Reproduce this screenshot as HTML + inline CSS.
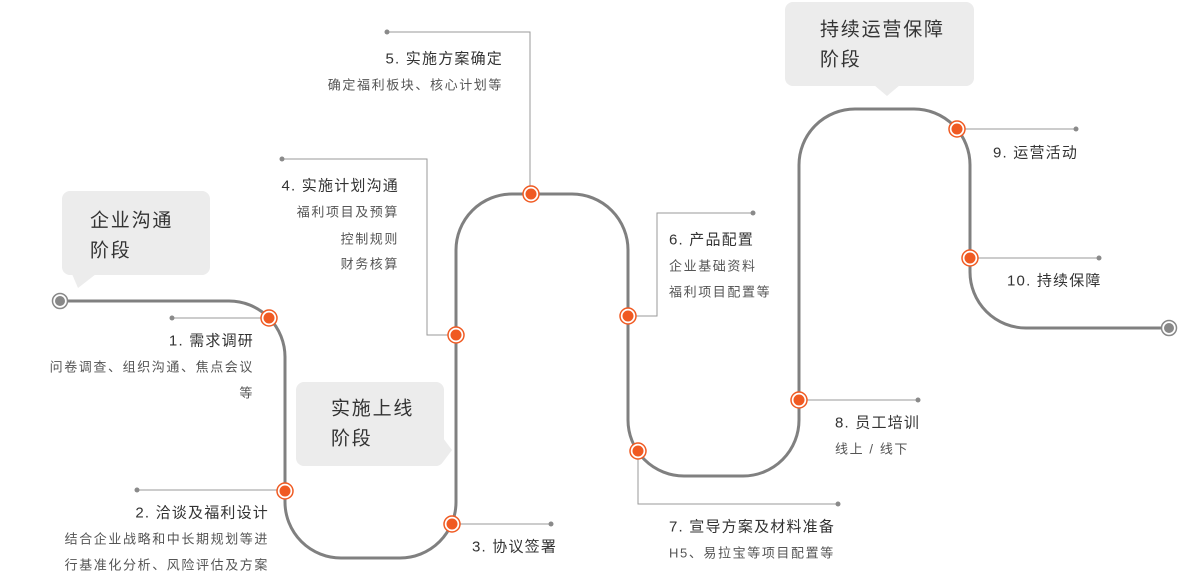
<!DOCTYPE html>
<html><head><meta charset="utf-8"><style>
html,body{margin:0;padding:0;background:#fff;}
svg{display:block;font-family:"Liberation Sans","Noto Sans CJK SC",sans-serif;}
.t{font-size:15px;fill:#333;letter-spacing:1.2px}
.s{font-size:13px;fill:#555;letter-spacing:1.6px}
.b{font-size:19px;fill:#333;letter-spacing:1.8px}
.l{stroke:#9a9a9a;stroke-width:1;fill:none}
</style></head><body>
<svg width="1200" height="579" viewBox="0 0 1200 579" xmlns="http://www.w3.org/2000/svg">
<g fill="#ececec">
<rect x="62" y="191" width="148" height="84" rx="8"/>
<polygon points="72,274 96,274 78,288"/>
<rect x="296" y="382" width="148" height="84" rx="8"/>
<polygon points="443,438 443,462 452,450"/>
<rect x="785" y="2" width="189" height="84" rx="8"/>
<polygon points="874,85 900,85 887,96"/>
</g>
<text class="b" x="90" y="221" dominant-baseline="central">企业沟通</text>
<text class="b" x="90" y="251" dominant-baseline="central">阶段</text>
<text class="b" x="331" y="409" dominant-baseline="central">实施上线</text>
<text class="b" x="331" y="439" dominant-baseline="central">阶段</text>
<text class="b" x="820" y="30" dominant-baseline="central">持续运营保障</text>
<text class="b" x="820" y="60" dominant-baseline="central">阶段</text>

<path d="M60,301 H229 A56,56 0 0 1 285,357 V502 A56,56 0 0 0 341,558 H400 A56,56 0 0 0 456,502 V250 A56,56 0 0 1 512,194 H572 A56,56 0 0 1 628,250 V420 A56,56 0 0 0 684,476 H743 A56,56 0 0 0 799,420 V165 A56,56 0 0 1 855,109 H914 A56,56 0 0 1 970,165 V272 A56,56 0 0 0 1026,328 H1169" fill="none" stroke="#808080" stroke-width="3"/>

<path class="l" d="M172,318 H269"/>
<path class="l" d="M137,490 H285"/>
<path class="l" d="M452,524 H551"/>
<path class="l" d="M282,159 H427 V335 H456"/>
<path class="l" d="M387,32 H530 V194"/>
<path class="l" d="M628,316 H657 V213 H753"/>
<path class="l" d="M638,451 V504 H838"/>
<path class="l" d="M799,400 H918"/>
<path class="l" d="M957,129 H1076"/>
<path class="l" d="M970,258 H1099"/>
<g fill="#8a8a8a">
<circle cx="172" cy="318" r="2.5"/><circle cx="137" cy="490" r="2.5"/><circle cx="551" cy="524" r="2.5"/>
<circle cx="282" cy="159" r="2.5"/><circle cx="387" cy="32" r="2.5"/><circle cx="753" cy="213" r="2.5"/>
<circle cx="838" cy="504" r="2.5"/><circle cx="918" cy="400" r="2.5"/><circle cx="1076" cy="129" r="2.5"/>
<circle cx="1099" cy="258" r="2.5"/>
</g>

<g>
<g fill="#fff" stroke="#f05a22" stroke-width="1.5">
<circle cx="269" cy="318" r="8"/><circle cx="285" cy="491" r="8"/><circle cx="452" cy="524" r="8"/>
<circle cx="456" cy="335" r="8"/><circle cx="531" cy="194" r="8"/><circle cx="628" cy="316" r="8"/>
<circle cx="638" cy="451" r="8"/><circle cx="799" cy="400" r="8"/><circle cx="957" cy="129" r="8"/>
<circle cx="970" cy="258" r="8"/>
</g>
<g fill="#f05a22">
<circle cx="269" cy="318" r="5.5"/><circle cx="285" cy="491" r="5.5"/><circle cx="452" cy="524" r="5.5"/>
<circle cx="456" cy="335" r="5.5"/><circle cx="531" cy="194" r="5.5"/><circle cx="628" cy="316" r="5.5"/>
<circle cx="638" cy="451" r="5.5"/><circle cx="799" cy="400" r="5.5"/><circle cx="957" cy="129" r="5.5"/>
<circle cx="970" cy="258" r="5.5"/>
</g>
<circle cx="60" cy="301" r="7.5" fill="#fff" stroke="#888" stroke-width="1.5"/>
<circle cx="60" cy="301" r="5" fill="#888"/>
<circle cx="1169" cy="328" r="7.5" fill="#fff" stroke="#888" stroke-width="1.5"/>
<circle cx="1169" cy="328" r="5" fill="#888"/>
</g>

<g dominant-baseline="central">
<text class="t" x="254" y="341" text-anchor="end">1. 需求调研</text>
<text class="s" x="254" y="367" text-anchor="end">问卷调查、组织沟通、焦点会议</text>
<text class="s" x="254" y="393" text-anchor="end">等</text>

<text class="t" x="269" y="513" text-anchor="end">2. 洽谈及福利设计</text>
<text class="s" x="269" y="539" text-anchor="end">结合企业战略和中长期规划等进</text>
<text class="s" x="269" y="565" text-anchor="end">行基准化分析、风险评估及方案</text>

<text class="t" x="472" y="547">3. 协议签署</text>

<text class="t" x="399" y="186" text-anchor="end">4. 实施计划沟通</text>
<text class="s" x="399" y="212" text-anchor="end">福利项目及预算</text>
<text class="s" x="399" y="239" text-anchor="end">控制规则</text>
<text class="s" x="399" y="264" text-anchor="end">财务核算</text>

<text class="t" x="503" y="59" text-anchor="end">5. 实施方案确定</text>
<text class="s" x="503" y="85" text-anchor="end">确定福利板块、核心计划等</text>

<text class="t" x="669" y="240">6. 产品配置</text>
<text class="s" x="669" y="266">企业基础资料</text>
<text class="s" x="669" y="292">福利项目配置等</text>

<text class="t" x="669" y="527">7. 宣导方案及材料准备</text>
<text class="s" x="669" y="553">H5、易拉宝等项目配置等</text>

<text class="t" x="835" y="423">8. 员工培训</text>
<text class="s" x="835" y="449">线上 / 线下</text>

<text class="t" x="993" y="153">9. 运营活动</text>
<text class="t" x="1007" y="281">10. 持续保障</text>
</g>
</svg>
</body></html>
